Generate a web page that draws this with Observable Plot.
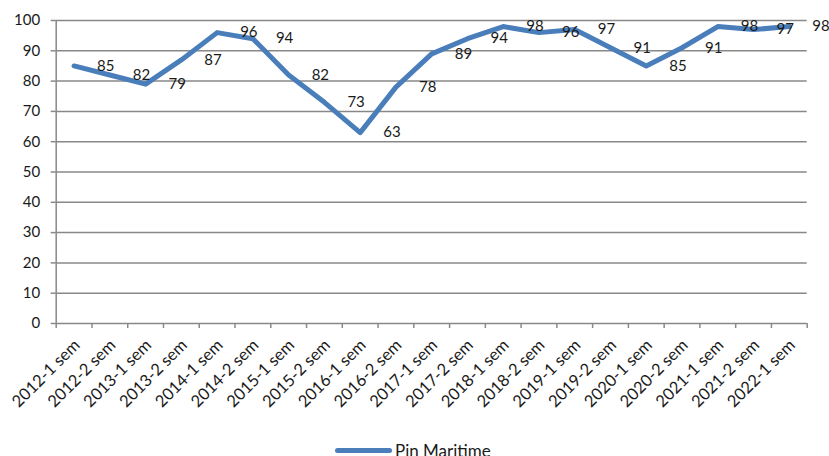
<!DOCTYPE html>
<html><head><meta charset="utf-8">
<script src="https://cdn.jsdelivr.net/npm/d3@7"></script>
<script src="https://cdn.jsdelivr.net/npm/@observablehq/plot@0.6"></script>
<style>
body{margin:0;background:#fff;font-family:Lato,"Open Sans",sans-serif;}
#legend{display:flex;align-items:center;height:20px;padding-left:335px;font-size:17px;color:#1a1a1a;font-family:Lato,"Open Sans",sans-serif;}
#legend .sw{display:inline-block;width:57px;height:5px;background:#4a7ebb;border-radius:3px;margin-right:3px}
</style></head><body>
<div id="chart"></div>
<div id="legend"><span class="sw"></span><span id="legname"></span></div>
<script>
const categories = ["2012-1 sem","2012-2 sem","2013-1 sem","2013-2 sem","2014-1 sem","2014-2 sem","2015-1 sem","2015-2 sem","2016-1 sem","2016-2 sem","2017-1 sem","2017-2 sem","2018-1 sem","2018-2 sem","2019-1 sem","2019-2 sem","2020-1 sem","2020-2 sem","2021-1 sem","2021-2 sem","2022-1 sem"];
const values = [85,82,79,87,96,94,82,73,63,78,89,94,98,96,97,91,85,91,98,97,98];
const seriesName = "Pin Maritime";
const yTicks = [0,10,20,30,40,50,60,70,80,90,100];

document.getElementById("legname").textContent = seriesName;
const data = categories.map((c,i)=>({i:i+0.5, cat:c, value:values[i]}));
const bounds = d3.range(0, categories.length+1);
const grey = "#888888";
const plot = Plot.plot({
  width: 829, height: 440,
  marginLeft: 55.7, marginRight: 22.3, marginTop: 20, marginBottom: 117,
  style: {fontFamily:'Lato,"Open Sans",sans-serif', fontSize:"15px", color:"#1a1a1a", background:"#fff", overflow:"visible"},
  x: {type:"linear", domain:[0, categories.length]},
  y: {domain:[0,100]},
  marks: [
    Plot.ruleY(yTicks.filter(d=>d>0), {stroke:grey, strokeWidth:1.5}),
    Plot.ruleX([0], {stroke:grey, strokeWidth:1.5}),
    Plot.ruleY([0], {stroke:grey, strokeWidth:1.5}),
    Plot.axisY({ticks:yTicks, tickSize:5, tickPadding:11, tickFormat:d=>String(d), stroke:grey, strokeWidth:1.5, fill:"#1a1a1a", fontSize:15, label:null}),
    Plot.axisX({ticks:bounds, tickSize:5, tickFormat:()=>"", stroke:grey, strokeWidth:1.5, label:null}),
    Plot.axisX({ticks:data.map(d=>d.i), tickSize:0, tickPadding:19, dx:3, tickRotate:-45, tickFormat:d=>categories[Math.round(d-0.5)], fill:"#1a1a1a", fontSize:16.5, label:null}),
    Plot.line(data, {x:"i", y:"value", stroke:"#4a7ebb", strokeWidth:5, strokeLinejoin:"round", strokeLinecap:"round"}),
    Plot.text(data, {x:"i", y:"value", text:d=>String(d.value), dx:23, textAnchor:"start", fontSize:15, fill:"#1a1a1a"})
  ]
});
document.getElementById("chart").appendChild(plot);
</script>
</body></html>
